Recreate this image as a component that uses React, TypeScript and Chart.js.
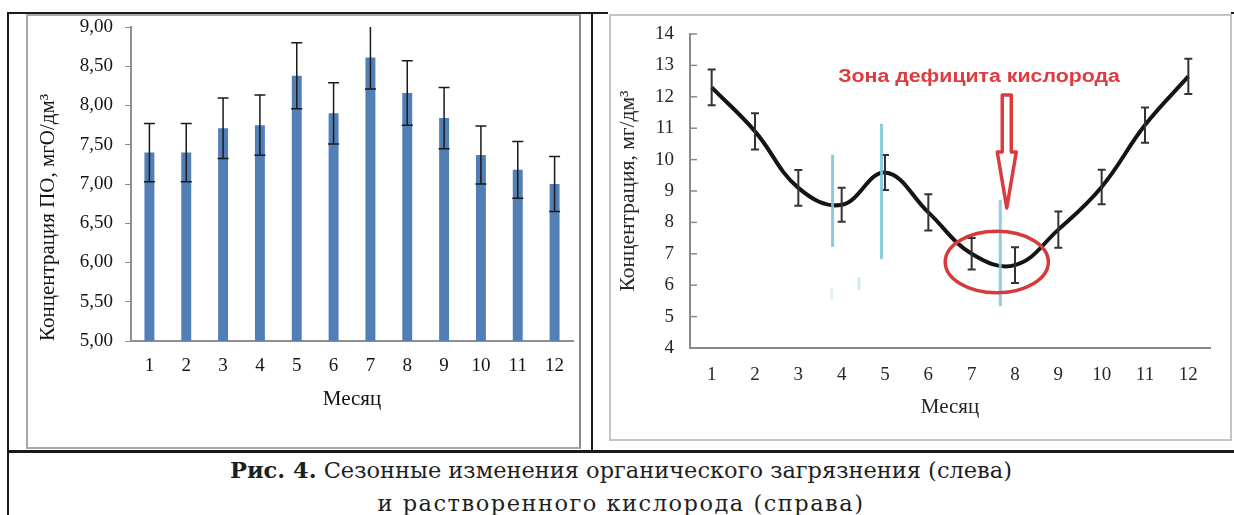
import React, { useEffect, useRef } from "react";
import { Chart, registerables } from "chart.js";

Chart.register(...registerables);

// ---------- data ----------
const months = ["1", "2", "3", "4", "5", "6", "7", "8", "9", "10", "11", "12"];

// left: organic pollution (ПО), mgO/dm3
const organicValues = [7.4, 7.4, 7.71, 7.75, 8.38, 7.9, 8.61, 8.16, 7.84, 7.37, 7.18, 7.0];
const organicErrors = [0.37, 0.37, 0.385, 0.385, 0.42, 0.39, 0.4, 0.41, 0.39, 0.37, 0.36, 0.35];
const organicTicks = [5.0, 5.5, 6.0, 6.5, 7.0, 7.5, 8.0, 8.5, 9.0];

// right: dissolved oxygen, mg/dm3
const oxygenValues = [12.3, 10.9, 9.1, 8.56, 9.59, 8.32, 7.0, 6.64, 7.77, 9.13, 11.1, 12.65];
const oxygenErrors = [0.57, 0.58, 0.57, 0.54, 0.56, 0.58, 0.5, 0.57, 0.58, 0.55, 0.56, 0.56];
const oxygenTicks = [4, 5, 6, 7, 8, 9, 10, 11, 12, 13, 14];

// texts
const leftYTitle = "Концентрация ПО, мгО/дм³";
const rightYTitle = "Концентрация, мг/дм³";
const xTitle = "Месяц";
const zoneLabel = "Зона дефицита кислорода";
const captionBold = "Рис. 4.";
const captionLine1 = "Сезонные изменения органического загрязнения (слева)";
const captionLine2 = "и растворенного кислорода (справа)";

// annotation anchors in data units (month number, concentration)
const zoneEllipse = { month: 7.58, value: 6.74, rMonths: 1.19, rValue: 0.98 };
const zoneArrow = { month: 7.81, fromValue: 12.06, headValue: 10.24, toValue: 8.46 };
const zoneLabelAt = { month: 7.17, value: 12.62, widthMonths: 6.5 };
const blueMarks = [
  { month: 3.79, from: 10.15, to: 7.22, alpha: 0.9 },
  { month: 4.92, from: 11.14, to: 6.83, alpha: 0.9 },
  { month: 7.66, from: 8.71, to: 5.33, alpha: 0.85 },
  { month: 3.77, from: 5.9, to: 5.55, alpha: 0.25 },
  { month: 4.4, from: 6.26, to: 5.85, alpha: 0.35 },
];

const serif = '"Liberation Serif", "Times New Roman", serif';

function errorBars(values: number[], errors: number[], color: string, width: number, cap: number) {
  return {
    id: "errorBars",
    afterDatasetsDraw(chart: any) {
      const { ctx, chartArea, scales } = chart;
      const x = scales.x;
      const y = scales.y;
      ctx.save();
      ctx.beginPath();
      ctx.rect(chartArea.left, chartArea.top, chartArea.right - chartArea.left, chartArea.bottom - chartArea.top);
      ctx.clip();
      ctx.strokeStyle = color;
      ctx.lineWidth = width;
      values.forEach((v, i) => {
        const px = x.getPixelForValue(i);
        const top = y.getPixelForValue(v + errors[i]);
        const bot = y.getPixelForValue(v - errors[i]);
        ctx.beginPath();
        ctx.moveTo(px, top);
        ctx.lineTo(px, bot);
        ctx.moveTo(px - cap, top);
        ctx.lineTo(px + cap, top);
        ctx.moveTo(px - cap, bot);
        ctx.lineTo(px + cap, bot);
        ctx.stroke();
      });
      ctx.restore();
    },
  };
}

const innerTicks = {
  id: "innerTicks",
  afterDraw(chart: any) {
    const { ctx, chartArea, scales } = chart;
    ctx.save();
    ctx.strokeStyle = "#8a8a8a";
    ctx.lineWidth = 1.5;
    oxygenTicks.forEach((t) => {
      const py = scales.y.getPixelForValue(t);
      ctx.beginPath();
      ctx.moveTo(chartArea.left, py);
      ctx.lineTo(chartArea.left + 7, py);
      ctx.stroke();
    });
    ctx.restore();
  },
};

const zoneAnnotations = {
  id: "zoneAnnotations",
  afterDatasetsDraw(chart: any) {
    const { ctx, scales } = chart;
    const x = scales.x;
    const y = scales.y;
    const mx = (m: number) => x.getPixelForValue(m - 1);
    ctx.save();
    // light blue vertical marks
    ctx.lineCap = "butt";
    blueMarks.forEach((b) => {
      ctx.globalAlpha = b.alpha;
      ctx.strokeStyle = "#7cc6d8";
      ctx.lineWidth = 3;
      ctx.beginPath();
      ctx.moveTo(mx(b.month), y.getPixelForValue(b.from));
      ctx.lineTo(mx(b.month), y.getPixelForValue(b.to));
      ctx.stroke();
    });
    ctx.globalAlpha = 1;
    // ellipse
    const ex = mx(zoneEllipse.month);
    const ey = y.getPixelForValue(zoneEllipse.value);
    const rx = Math.abs(mx(zoneEllipse.month + zoneEllipse.rMonths) - ex);
    const ry = Math.abs(y.getPixelForValue(zoneEllipse.value + zoneEllipse.rValue) - ey);
    ctx.strokeStyle = "#d63a3a";
    ctx.lineWidth = 3.5;
    ctx.beginPath();
    ctx.ellipse(ex, ey, rx, ry, 0, 0, Math.PI * 2);
    ctx.stroke();
    // hollow arrow
    const ax = mx(zoneArrow.month);
    const aTop = y.getPixelForValue(zoneArrow.fromValue);
    const aHead = y.getPixelForValue(zoneArrow.headValue);
    const aTip = y.getPixelForValue(zoneArrow.toValue);
    const sw = 4.5;
    const hw = 9.5;
    ctx.beginPath();
    ctx.moveTo(ax - sw, aTop);
    ctx.lineTo(ax + sw, aTop);
    ctx.lineTo(ax + sw, aHead);
    ctx.lineTo(ax + hw, aHead);
    ctx.lineTo(ax, aTip);
    ctx.lineTo(ax - hw, aHead);
    ctx.lineTo(ax - sw, aHead);
    ctx.closePath();
    ctx.fillStyle = "#ffffff";
    ctx.fill();
    ctx.strokeStyle = "#dd3b3b";
    ctx.lineWidth = 3.5;
    ctx.lineJoin = "round";
    ctx.stroke();
    // label
    const lx = mx(zoneLabelAt.month);
    const ly = y.getPixelForValue(zoneLabelAt.value);
    const targetW = Math.abs(x.getPixelForValue(zoneLabelAt.widthMonths) - x.getPixelForValue(0));
    ctx.font = 'bold 18px "Liberation Sans", Arial, sans-serif';
    const w = ctx.measureText(zoneLabel).width;
    const sx = targetW / w;
    ctx.translate(lx, ly);
    ctx.scale(sx, 1);
    ctx.fillStyle = "#e0393e";
    ctx.textAlign = "center";
    ctx.textBaseline = "middle";
    ctx.fillText(zoneLabel, 0, 0);
    ctx.restore();
  },
};

function LeftChart() {
  const ref = useRef<HTMLCanvasElement>(null);
  useEffect(() => {
    if (!ref.current) return;
    const chart = new Chart(ref.current, {
      type: "bar",
      data: {
        labels: months,
        datasets: [
          {
            data: organicValues,
            backgroundColor: "#527fb5",
            barPercentage: 0.27,
            categoryPercentage: 1,
          },
        ],
      },
      options: {
        responsive: false,
        animation: false,
        devicePixelRatio: 1,
        layout: { padding: { top: 11, right: 6, left: 0, bottom: 0 } },
        plugins: { legend: { display: false }, tooltip: { enabled: false } },
        scales: {
          x: {
            grid: { display: false, drawTicks: false },
            border: { display: true, color: "#8f8f8f", width: 2 },
            ticks: { padding: 14, font: { family: serif, size: 19 }, color: "#141414" },
            title: {
              display: true,
              text: xTitle,
              font: { family: serif, size: 21 },
              color: "#141414",
              padding: { top: 0, bottom: 35.4 },
            },
            afterFit: (s: any) => {
              s.height = 106;
            },
          },
          y: {
            min: 5,
            max: 9,
            afterBuildTicks: (s: any) => {
              s.ticks = organicTicks.map((v) => ({ value: v }));
            },
            ticks: {
              padding: 12,
              font: { family: serif, size: 19 },
              color: "#141414",
              callback: (v: any) => Number(v).toFixed(2).replace(".", ","),
            },
            grid: { display: true, drawOnChartArea: false, drawTicks: true, tickLength: 6, color: "#8f8f8f", lineWidth: 1 },
            border: { display: true, color: "#8f8f8f", width: 2 },
            title: {
              display: true,
              text: leftYTitle,
              align: "start",
              font: { family: serif, size: 21 },
              color: "#141414",
              padding: { top: 7.4, bottom: 0 },
            },
            afterFit: (s: any) => {
              s.width = 103;
              s.paddingTop = 0;
              s.paddingBottom = 0;
            },
          },
        },
      },
      plugins: [errorBars(organicValues, organicErrors, "#1a1a1a", 1.5, 5.5)],
    } as any);
    return () => chart.destroy();
  }, []);
  return <canvas ref={ref} width={551} height={431} style={{ position: "absolute", left: 28, top: 16 }} />;
}

function RightChart() {
  const ref = useRef<HTMLCanvasElement>(null);
  useEffect(() => {
    if (!ref.current) return;
    const chart = new Chart(ref.current, {
      type: "line",
      data: {
        labels: months,
        datasets: [
          {
            data: oxygenValues,
            borderColor: "#141414",
            borderWidth: 4,
            tension: 0.4,
            pointRadius: 0,
            fill: false,
          },
        ],
      },
      options: {
        responsive: false,
        animation: false,
        devicePixelRatio: 1,
        layout: { padding: { top: 18, right: 20, left: 0, bottom: 0 } },
        plugins: { legend: { display: false }, tooltip: { enabled: false } },
        scales: {
          x: {
            offset: true,
            grid: { display: false, drawTicks: false },
            border: { display: true, color: "#8a8a8a", width: 2 },
            ticks: { padding: 16, font: { family: serif, size: 19 }, color: "#262626" },
            title: {
              display: true,
              text: xTitle,
              font: { family: serif, size: 21 },
              color: "#262626",
              padding: { top: 0, bottom: 19.4 },
            },
            afterFit: (s: any) => {
              s.height = 91;
            },
          },
          y: {
            min: 4,
            max: 14,
            afterBuildTicks: (s: any) => {
              s.ticks = oxygenTicks.map((v) => ({ value: v }));
            },
            ticks: { padding: 16, font: { family: serif, size: 19 }, color: "#262626" },
            grid: { display: false, drawTicks: false },
            border: { display: true, color: "#8a8a8a", width: 2 },
            title: {
              display: true,
              text: rightYTitle,
              font: { family: serif, size: 21.5 },
              color: "#262626",
              padding: { top: 4.4, bottom: 0 },
            },
            afterFit: (s: any) => {
              s.width = 79;
              s.paddingTop = 0;
              s.paddingBottom = 0;
            },
          },
        },
      },
      plugins: [innerTicks, errorBars(oxygenValues, oxygenErrors, "#333333", 2, 4), zoneAnnotations],
    } as any);
    return () => chart.destroy();
  }, []);
  return <canvas ref={ref} width={619} height={423} style={{ position: "absolute", left: 611, top: 16 }} />;
}

const rule: React.CSSProperties = { position: "absolute", background: "#1a1a1a" };

export default function App() {
  return (
    <div style={{ position: "absolute", left: 0, top: 0, width: 1234, height: 515, overflow: "hidden", background: "#ffffff" }}>
      <div style={{ ...rule, left: 7, top: 12, width: 601, height: 2 }} />
      <div style={{ ...rule, left: 1231, top: 12, width: 3, height: 2 }} />
      <div style={{ ...rule, left: 7, top: 12, width: 2, height: 503 }} />
      <div style={{ ...rule, left: 591, top: 12, width: 2, height: 440 }} />
      <div style={{ ...rule, left: 7, top: 450, width: 1227, height: 3 }} />

      <div
        style={{
          position: "absolute",
          left: 26,
          top: 14,
          width: 555,
          height: 435,
          border: "2px solid #a8a8a8",
          borderRightColor: "#8a8a8a",
          boxSizing: "border-box",
        }}
      />
      <LeftChart />

      <div
        style={{
          position: "absolute",
          left: 609,
          top: 14,
          width: 623,
          height: 427,
          border: "2px solid #c4c4c4",
          boxSizing: "border-box",
        }}
      />
      <RightChart />

      <div
        style={{
          position: "absolute",
          left: 8,
          top: 454,
          width: 1226,
          textAlign: "center",
          fontFamily: '"DejaVu Serif", serif',
          fontSize: 22.5,
          lineHeight: "33px",
          color: "#1f1f1f",
          whiteSpace: "nowrap",
        }}
      >
        <div>
          <b>{captionBold}</b> {captionLine1}
        </div>
        <div style={{ letterSpacing: "1.5px" }}>{captionLine2}</div>
      </div>
    </div>
  );
}
